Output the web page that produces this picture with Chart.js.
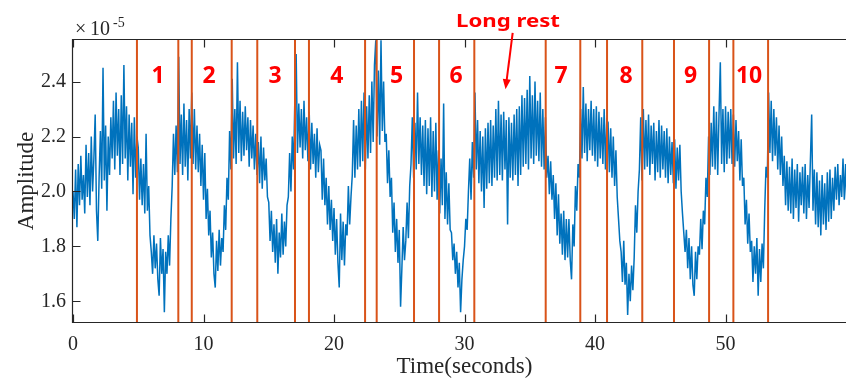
<!DOCTYPE html>
<html>
<head>
<meta charset="utf-8">
<script src="https://cdn.jsdelivr.net/npm/chart.js@4.4.1/dist/chart.umd.min.js"></script>
<style>
  html, body { margin: 0; padding: 0; background: #fff; overflow: hidden; }
</style>
</head>
<body>
<canvas id="ampChart" width="846" height="381"></canvas>
<script>
// sampled amplitude (x1e-5), one row per second, 0.1 s apart
const SAMPLE_STEP = 0.1;
const amplitude = [
  2.00, 1.90, 2.08, 1.87, 2.10, 1.95, 2.13, 1.97, 2.06, 1.92,
  2.17, 1.98, 2.14, 1.95, 2.20, 2.00, 2.12, 2.28, 1.93, 1.82,
  2.05, 2.22, 2.01, 2.45, 2.04, 2.24, 1.93, 2.20, 2.06, 2.27,
  2.12, 2.33, 2.08, 2.36, 2.13, 2.30, 2.06, 2.35, 2.10, 2.46,
  2.12, 2.31, 2.04, 2.28, 2.09, 2.25, 1.99, 2.27, 2.05, 2.20,
  2.16, 1.97, 2.12, 1.95, 2.10, 1.92, 2.21, 1.93, 2.02, 1.84,
  1.78, 1.70, 1.84, 1.72, 1.81, 1.68, 1.62, 1.83, 1.70, 1.79,
  1.56, 1.78, 1.70, 1.84, 1.73, 1.90, 2.02, 2.21, 2.06, 2.24,
  2.07, 2.49, 2.10, 2.28, 2.06, 2.32, 2.09, 2.26, 2.04, 2.30,
  2.12, 2.36, 2.10, 2.30, 2.08, 2.24, 2.07, 2.21, 2.02, 2.17,
  1.97, 2.14, 1.90, 2.01, 1.84, 1.93, 1.76, 1.85, 1.70, 1.65,
  1.82, 1.71, 1.86, 1.73, 1.83, 1.78, 1.95, 1.86, 2.05, 1.97,
  2.22, 2.08, 2.41, 2.12, 2.30, 2.10, 2.47, 2.14, 2.33, 2.11,
  2.29, 2.13, 2.31, 2.15, 2.27, 2.09, 2.26, 2.12, 2.24, 2.08,
  2.21, 2.06, 2.18, 2.03, 2.20, 2.01, 2.16, 2.04, 2.12, 1.98,
  1.96, 1.82, 1.93, 1.78, 1.88, 1.74, 1.90, 1.70, 1.85, 1.76,
  1.92, 1.77, 1.89, 1.80, 1.95, 1.98, 2.14, 2.00, 2.20, 2.08,
  2.34, 2.50, 2.14, 2.32, 2.16, 2.30, 2.12, 2.33, 2.15, 2.27,
  2.11, 2.29, 2.08, 2.25, 2.10, 2.21, 2.05, 2.23, 2.07, 2.17,
  2.15, 1.97, 2.12, 1.95, 2.05, 1.88, 2.02, 1.86, 1.97, 1.82,
  1.94, 1.77, 1.90, 1.74, 1.65, 1.92, 1.75, 1.89, 1.73, 1.88,
  1.84, 2.02, 1.88, 1.98, 2.06, 2.26, 2.05, 2.24, 2.08, 2.30,
  2.09, 2.33, 2.11, 2.36, 2.08, 2.31, 2.12, 2.35, 2.14, 2.40,
  2.18, 2.46, 2.55, 2.20, 2.44, 2.17, 2.55, 2.22, 2.40, 2.18,
  2.21, 2.03, 2.15, 1.98, 2.05, 1.85, 1.96, 1.78, 1.90, 1.74,
  1.86, 1.58, 1.72, 1.87, 1.75, 1.82, 1.96, 1.83, 2.02, 2.10,
  2.27, 2.05, 2.25, 2.08, 2.36, 2.10, 2.27, 2.06, 2.24, 2.02,
  2.26, 1.99, 2.23, 2.02, 2.27, 1.98, 2.22, 2.00, 2.25, 1.97,
  2.15, 1.92, 2.12, 1.95, 2.32, 1.90, 2.07, 1.88, 2.03, 1.86,
  1.85, 1.75, 1.81, 1.70, 1.78, 1.65, 1.74, 1.56, 1.68, 1.75,
  1.80, 1.90, 1.86, 2.00, 2.12, 1.97, 2.18, 2.05, 2.36, 2.08,
  2.26, 2.03, 2.22, 2.00, 2.20, 1.94, 2.23, 2.01, 2.25, 2.03,
  2.26, 2.02, 2.24, 2.05, 2.30, 2.04, 2.33, 2.06, 2.28, 2.04,
  2.29, 2.08, 2.26, 1.88, 2.27, 2.05, 2.25, 2.04, 2.28, 2.06,
  2.30, 2.02, 2.31, 2.06, 2.35, 2.09, 2.34, 2.10, 2.37, 2.08,
  2.42, 2.12, 2.35, 2.10, 2.40, 2.13, 2.33, 2.11, 2.36, 2.09,
  2.30, 2.08, 2.27, 2.05, 2.13, 1.99, 2.11, 1.97, 2.06, 1.90,
  2.03, 1.84, 1.99, 1.81, 1.92, 1.77, 1.93, 1.75, 1.90, 1.76,
  1.90, 1.75, 1.68, 1.88, 1.80, 2.02, 1.93, 2.10, 2.05, 2.30,
  2.12, 2.38, 2.14, 2.32, 2.11, 2.30, 2.15, 2.33, 2.13, 2.30,
  2.11, 2.31, 2.09, 2.29, 2.12, 2.27, 2.10, 2.30, 2.08, 2.26,
  2.25, 2.07, 2.23, 2.05, 2.20, 2.02, 2.15, 1.98, 1.90, 1.82,
  1.78, 1.67, 1.82, 1.66, 1.74, 1.55, 1.70, 1.60, 1.73, 1.64,
  1.76, 1.95, 1.85, 2.00, 2.08, 2.27, 2.04, 2.30, 2.08, 2.26,
  2.09, 2.28, 2.06, 2.24, 2.10, 2.25, 2.04, 2.22, 2.07, 2.26,
  2.05, 2.24, 2.08, 2.22, 2.05, 2.23, 2.03, 2.20, 2.06, 2.18,
  2.03, 2.19, 2.01, 2.16, 2.04, 2.17, 2.00, 1.92, 1.85, 1.78,
  1.86, 1.72, 1.83, 1.68, 1.80, 1.66, 1.62, 1.78, 1.68, 1.80,
  1.77, 1.90, 1.79, 1.93, 1.88, 2.05, 1.98, 2.20, 2.06, 2.25,
  2.09, 2.31, 2.08, 2.29, 2.06, 2.28, 2.47, 2.10, 2.30, 2.07,
  2.31, 2.10, 2.29, 2.12, 2.30, 2.10, 2.28, 2.09, 2.26, 2.11,
  2.22, 2.04, 2.19, 2.02, 2.05, 1.88, 1.97, 1.81, 1.92, 1.78,
  1.82, 1.67, 1.80, 1.70, 1.83, 1.62, 1.79, 1.67, 1.81, 1.72,
  1.93, 2.09, 2.05, 2.36, 2.14, 2.33, 2.11, 2.30, 2.13, 2.27,
  2.08, 2.24, 2.06, 2.20, 2.02, 2.13, 1.95, 2.11, 1.93, 2.09,
  1.92, 2.12, 1.90, 2.08, 1.94, 2.10, 1.89, 2.07, 1.95, 2.09,
  1.92, 2.10, 1.90, 2.06, 1.94, 2.11, 2.28, 1.93, 2.08, 1.88,
  2.07, 1.87, 2.04, 1.84, 2.06, 1.88, 2.03, 1.86, 2.07, 1.89,
  2.08, 1.90, 2.05, 1.93, 2.09, 1.97, 2.10, 1.95, 2.06, 1.98,
  2.12, 1.97, 2.10, 1.95, 2.08, 1.98, 2.11, 1.96, 2.07, 2.00
];

// segment boundaries (s) and their numbering
const boundaryTimes = [4.90, 8.07, 9.10, 12.16, 14.12, 17.01, 18.08, 22.38, 23.27, 26.13,
                       28.05, 30.75, 36.22, 38.87, 40.92, 43.62, 46.05, 48.74, 50.60, 53.26];
const segmentNames = ['1', '2', '3', '4', '5', '6', '7', '8', '9', '10'];
const segmentNameTimes = [6.51, 10.42, 15.48, 20.21, 24.8, 29.35, 37.39, 42.38, 47.33, 51.8];
const SEGMENT_NAME_LEVEL = 2.42;

// "Long rest" note with its arrow
const restNote = 'Long rest';
const restNoteAt = { x: 33.33, y: 2.598 };
const restArrowFrom = { x: 33.69, y: 2.577 };
const restArrowTo = { x: 33.14, y: 2.372 };

const xTicks = [0, 10, 20, 30, 40, 50];
const yTicks = [1.6, 1.8, 2.0, 2.2, 2.4];
// time axis runs to 60 s; the visible part stops a little short of it
const X_RANGE = [0, 59.23];
const X_TITLE_AT = 30;
const Y_RANGE = [1.521, 2.555];

const AXIS_COLOR = '#262626';
const SERIF = '"Liberation Serif", "Times New Roman", serif';

const signalPoints = amplitude.map((v, i) => ({ x: +(i * SAMPLE_STEP).toFixed(2), y: v }));

const boundarySets = boundaryTimes.map(t => ({
  data: [{ x: t, y: Y_RANGE[0] }, { x: t, y: Y_RANGE[1] }],
  borderColor: '#D95319',
  borderWidth: 2,
  pointRadius: 0,
  order: 0,
}));

// MATLAB-style axes with inward ticks, drawn over the data
const axesBox = {
  id: 'axesBox',
  afterDatasetsDraw(chart) {
    const { ctx, chartArea: a, scales: { x, y } } = chart;
    const L = Math.round(a.left) - 0.5, R = a.right;
    const T = Math.round(a.top) + 0.5, B = Math.round(a.bottom) - 0.5;
    ctx.save();
    ctx.strokeStyle = AXIS_COLOR;
    ctx.lineWidth = 1.2;
    ctx.beginPath();
    ctx.moveTo(R, T); ctx.lineTo(L, T); ctx.lineTo(L, B); ctx.lineTo(R, B);
    xTicks.forEach(v => {
      const px = Math.round(x.getPixelForValue(v)) + 0.5;
      ctx.moveTo(px, B); ctx.lineTo(px, B - 8);
      ctx.moveTo(px, T); ctx.lineTo(px, T + 8);
    });
    yTicks.forEach(v => {
      const py = Math.round(y.getPixelForValue(v)) + 0.5;
      ctx.moveTo(L, py); ctx.lineTo(L + 8, py);
    });
    ctx.stroke();
    ctx.restore();
  },
  afterDraw(chart) {
    const { ctx, chartArea: a, scales: { x, y } } = chart;
    ctx.save();
    ctx.fillStyle = AXIS_COLOR;

    // axis titles
    ctx.font = '23px ' + SERIF;
    ctx.textAlign = 'center';
    ctx.textBaseline = 'alphabetic';
    ctx.fillText('Time(seconds)', x.getPixelForValue(X_TITLE_AT), 373);
    ctx.save();
    ctx.translate(33, (a.top + a.bottom) / 2);
    ctx.rotate(-Math.PI / 2);
    ctx.fillText('Amplitude', 0, 0);
    ctx.restore();

    // exponent: x10^-5
    ctx.textAlign = 'left';
    ctx.font = '20px ' + SERIF;
    ctx.fillText('\u00d7', a.left + 2, 35);
    ctx.fillText('10', a.left + 17, 35);
    ctx.font = '14px ' + SERIF;
    ctx.fillText('-5', a.left + 40, 27);

    // segment numbers
    ctx.fillStyle = '#FF0000';
    ctx.font = 'bold 23px "Noto Sans", "Liberation Sans", sans-serif';
    ctx.textAlign = 'center';
    ctx.textBaseline = 'middle';
    segmentNames.forEach((s, i) => {
      ctx.fillText(s, x.getPixelForValue(segmentNameTimes[i]), y.getPixelForValue(SEGMENT_NAME_LEVEL));
    });

    // long rest note
    ctx.font = 'bold 18px "Noto Sans", "Liberation Sans", sans-serif';
    ctx.textBaseline = 'alphabetic';
    const nx = x.getPixelForValue(restNoteAt.x), ny = y.getPixelForValue(restNoteAt.y);
    const mw = ctx.measureText(restNote).width;
    ctx.save();
    ctx.translate(nx, ny);
    ctx.scale(104 / mw, 1);
    ctx.fillText(restNote, 0, 0);
    ctx.restore();

    const x0 = x.getPixelForValue(restArrowFrom.x), y0 = y.getPixelForValue(restArrowFrom.y);
    const x1 = x.getPixelForValue(restArrowTo.x), y1 = y.getPixelForValue(restArrowTo.y);
    const ang = Math.atan2(y1 - y0, x1 - x0);
    ctx.strokeStyle = '#FF0000';
    ctx.lineWidth = 2;
    ctx.beginPath();
    ctx.moveTo(x0, y0);
    ctx.lineTo(x1 - 8 * Math.cos(ang), y1 - 8 * Math.sin(ang));
    ctx.stroke();
    ctx.beginPath();
    ctx.moveTo(x1, y1);
    ctx.lineTo(x1 - 10 * Math.cos(ang) + 4 * Math.sin(ang), y1 - 10 * Math.sin(ang) - 4 * Math.cos(ang));
    ctx.lineTo(x1 - 10 * Math.cos(ang) - 4 * Math.sin(ang), y1 - 10 * Math.sin(ang) + 4 * Math.cos(ang));
    ctx.closePath();
    ctx.fill();
    ctx.restore();
  }
};

new Chart(document.getElementById('ampChart'), {
  type: 'line',
  data: {
    datasets: [
      ...boundarySets,
      {
        data: signalPoints,
        borderColor: '#0072BD',
        borderWidth: 1.5,
        pointRadius: 0,
        tension: 0,
        order: 1,
      }
    ]
  },
  options: {
    responsive: false,
    animation: false,
    layout: { padding: { top: 39, right: 0, bottom: 0, left: 0 } },
    plugins: { legend: { display: false }, tooltip: { enabled: false } },
    scales: {
      x: {
        type: 'linear',
        min: X_RANGE[0], max: X_RANGE[1],
        afterFit: s => { s.height = 58; },
        afterBuildTicks: s => { s.ticks = xTicks.map(v => ({ value: v })); },
        grid: { display: false, drawTicks: false },
        border: { display: false },
        ticks: { color: AXIS_COLOR, font: { family: SERIF, size: 20 }, padding: 10, maxRotation: 0 }
      },
      y: {
        min: Y_RANGE[0], max: Y_RANGE[1],
        afterFit: s => { s.width = 73; },
        afterBuildTicks: s => { s.ticks = yTicks.map(v => ({ value: v })); },
        grid: { display: false, drawTicks: false },
        border: { display: false },
        ticks: { color: AXIS_COLOR, font: { family: SERIF, size: 20 }, padding: 7 }
      }
    }
  },
  plugins: [axesBox]
});
</script>
</body>
</html>
